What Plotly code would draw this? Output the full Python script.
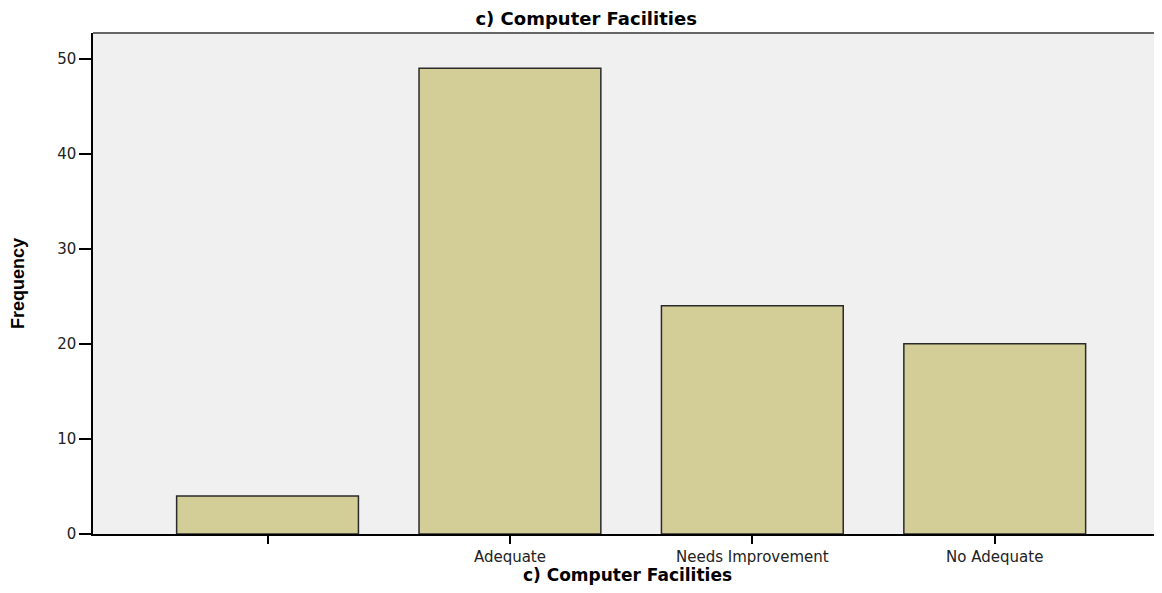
import plotly.graph_objects as go

categories = ["", "Adequate", "Needs Improvement", "No Adequate"]
frequencies = [4, 49, 24, 20]
positions = [0, 1, 2, 3]
y_ticks = [0, 10, 20, 30, 40, 50]

fig = go.Figure()
fig.add_trace(go.Bar(
    x=positions, y=frequencies, width=0.75,
    marker=dict(color="#D3CE98", line=dict(color="#2a2a2a", width=1.5)),
    hoverinfo="skip",
))

# page body has an 8px margin, so the figure is 8px smaller than the window
fig.update_layout(
    width=1154, height=577,
    margin=dict(l=85, r=0, t=25, b=51),
    paper_bgcolor="white", plot_bgcolor="#F0F0F0",
    showlegend=False,
    title=dict(text="<b>c) Computer Facilities</b>", x=0.501, xanchor="center",
               y=0.982, yanchor="middle",
               font=dict(family="DejaVu Sans", size=18, color="black")),
    font=dict(family="DejaVu Sans", color="#222"),
)
fig.update_xaxes(
    range=[-0.72, 3.69], tickmode="array", tickvals=positions, ticktext=categories,
    ticks="outside", ticklen=8, tickcolor="black", tickwidth=1.5,
    showline=True, linecolor="black", linewidth=1.5, showgrid=False, zeroline=False,
    tickfont=dict(family="DejaVu Sans", size=15, color="#222"),
    title=dict(text="<b>c) Computer Facilities</b>", standoff=6,
               font=dict(family="DejaVu Sans", size=17, color="black")),
)
fig.update_yaxes(
    range=[0, 52.7], tickmode="array", tickvals=y_ticks,
    ticks="outside", ticklen=12, tickcolor="black", tickwidth=1.5,
    showline=True, linecolor="black", linewidth=1.5, showgrid=False, zeroline=False,
    tickfont=dict(family="DejaVu Sans", size=15, color="#222"),
    title=dict(text="<b>Frequency</b>", standoff=34,
               font=dict(family="Liberation Sans Narrow, Liberation Sans", size=18, color="black")),
)
# top border of plot area
fig.add_shape(type="line", xref="paper", yref="paper", x0=0, x1=1, y0=1, y1=1,
              line=dict(color="#666", width=2))

fig.write_html("out.html")
